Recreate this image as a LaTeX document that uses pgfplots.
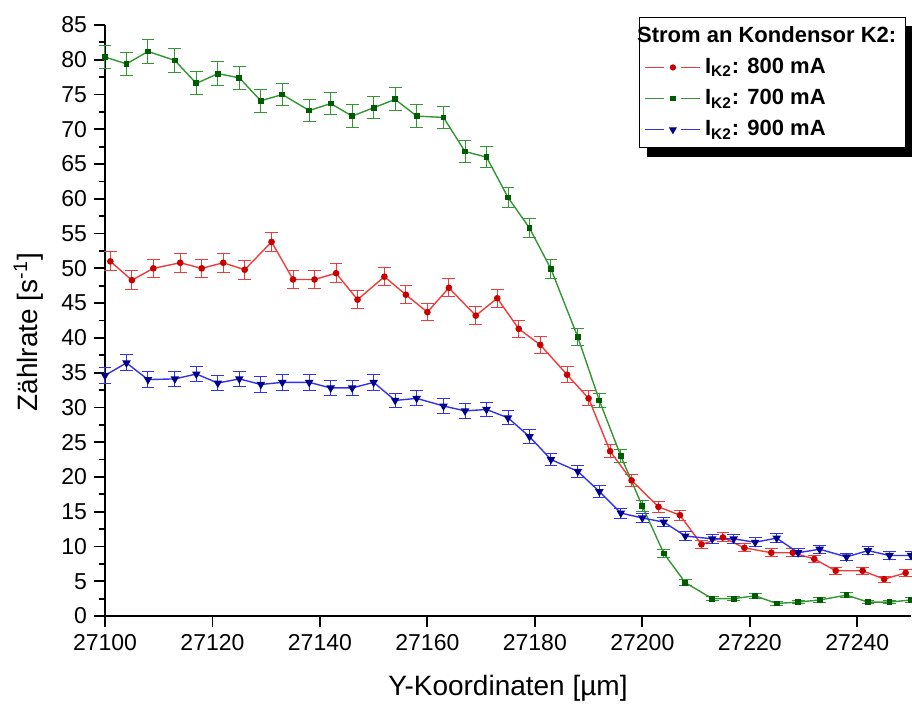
\documentclass[border=0pt]{standalone}
\usepackage{pgfplots}
\pgfplotsset{compat=1.18}
\usepackage{pgfplotstable}
\usepackage{fontspec}
\setmainfont{Liberation Sans}
\pgfdeclarelayer{background}
\pgfsetlayers{background,main}

\definecolor{redline}{RGB}{238,60,60}
\definecolor{redmark}{RGB}{200,0,0}
\definecolor{greenline}{RGB}{50,150,50}
\definecolor{greenmark}{RGB}{0,90,0}
\definecolor{blueline}{RGB}{50,50,235}
\definecolor{bluemark}{RGB}{0,0,140}

\pgfplotstableread{
x y e
27101 51.0 1.36
27105 48.3 1.32
27109 50.0 1.34
27114 50.8 1.35
27118 50.0 1.34
27122 50.8 1.35
27126 49.8 1.34
27131 53.8 1.39
27135 48.4 1.32
27139 48.4 1.32
27143 49.3 1.33
27147 45.5 1.28
27152 48.8 1.33
27156 46.2 1.29
27160 43.7 1.26
27164 47.2 1.31
27169 43.2 1.25
27173 45.7 1.28
27177 41.3 1.22
27181 39.0 1.19
27186 34.7 1.12
27190 31.3 1.06
27194 23.7 0.92
27198 19.5 0.84
27203 15.7 0.75
27207 14.5 0.72
27211 10.3 0.61
27215 11.3 0.64
27219 9.8 0.59
27224 9.1 0.57
27228 9.1 0.57
27232 8.2 0.54
27236 6.5 0.48
27241 6.5 0.48
27245 5.3 0.44
27249 6.2 0.47
}\redtable

\pgfplotstableread{
x y e
27100 80.4 1.70
27104 79.4 1.69
27108 81.2 1.71
27113 79.9 1.70
27117 76.6 1.66
27121 78.0 1.68
27125 77.4 1.67
27129 74.1 1.64
27133 75.0 1.65
27138 72.7 1.62
27142 73.7 1.63
27146 71.9 1.61
27150 73.1 1.62
27154 74.3 1.64
27158 71.9 1.61
27163 71.7 1.61
27167 66.8 1.55
27171 66.0 1.54
27175 60.2 1.47
27179 55.8 1.42
27183 49.9 1.34
27188 40.1 1.20
27192 31.0 1.06
27196 23.0 0.91
27200 15.8 0.76
27204 9.0 0.57
27208 4.8 0.42
27213 2.5 0.30
27217 2.5 0.30
27221 2.9 0.32
27225 1.8 0.25
27229 2.0 0.27
27233 2.3 0.29
27238 3.0 0.33
27242 2.0 0.27
27246 2.0 0.27
27250 2.3 0.29
}\greentable

\pgfplotstableread{
x y e
27100 34.6 1.12
27104 36.4 1.15
27108 34.0 1.11
27113 34.1 1.11
27117 34.8 1.12
27121 33.5 1.10
27125 34.1 1.11
27129 33.3 1.10
27133 33.6 1.10
27138 33.6 1.10
27142 32.8 1.09
27146 32.8 1.09
27150 33.6 1.10
27154 31.0 1.06
27158 31.3 1.06
27163 30.2 1.04
27167 29.5 1.03
27171 29.7 1.04
27175 28.5 1.01
27179 25.8 0.97
27183 22.5 0.90
27188 20.8 0.87
27192 17.9 0.80
27196 14.8 0.73
27200 14.1 0.71
27204 13.5 0.70
27208 11.5 0.64
27213 11.1 0.63
27217 11.1 0.63
27221 10.6 0.62
27225 11.2 0.64
27229 9.1 0.57
27233 9.6 0.59
27238 8.5 0.55
27242 9.4 0.58
27246 8.7 0.56
27250 8.7 0.56
}\bluetable

\begin{document}
\begin{tikzpicture}
\useasboundingbox (-52.5pt,-44pt) rectangle (403.5pt,308pt);
\begin{axis}[
  scale only axis,
  width=403pt, height=295.5pt,
  xmin=27100, xmax=27250, ymin=0, ymax=85,
  clip=false,
  axis x line*=bottom, axis y line*=left,
  axis line style={line width=1pt, black},
  xtick={27100,27120,...,27240},
  ytick={0,5,...,85},
  minor ytick={2.5,7.5,...,82.5},
  scaled x ticks=false, scaled y ticks=false,
  tick align=outside,
  major tick length=5.5pt, minor tick length=3pt,
  every tick/.style={black, line width=0.9pt},
  /pgf/number format/assume math mode=true,
  xticklabel style={/pgf/number format/1000 sep={}, font=\fontsize{11.5}{13}\selectfont},
  yticklabel style={font=\fontsize{11.5}{13}\selectfont},
  xlabel={Y-Koordinaten [µm]},
  ylabel={Zählrate [s\textsuperscript{-1}]},
  xlabel style={font=\fontsize{14}{16}\selectfont, at={(axis description cs:0.5,-0.122)}, anchor=center},
  ylabel style={font=\fontsize{14}{16}\selectfont, at={(axis description cs:-0.095,0.48)}, anchor=center},
  legend cell align=left,
  legend style={name=leg, at={(axis description cs:0.9935,1.0135)}, anchor=north east,
    draw=black, line width=0.5pt, fill=white,
    font=\fontsize{11}{13}\selectfont\bfseries,
    row sep=2.4pt, inner sep=2.5pt,
    /tikz/every even column/.append style={column sep=3pt}},
]
\addlegendimage{empty legend}
\addlegendentry{\hspace*{-34pt}Strom an Kondensor K2:}
\addlegendimage{legend image code/.code={
    \draw[redline,line width=0.7pt] (0pt,0pt) -- (9.5pt,0pt) (18pt,0pt) -- (27.5pt,0pt);
    \draw[redmark,fill=redmark] plot[mark=*,mark size=1.3pt,only marks] coordinates {(13.75pt,0pt)};}}
\addlegendentry{I\textsubscript{K2}: 800 mA}
\addlegendimage{legend image code/.code={
    \draw[greenline,line width=0.7pt] (0pt,0pt) -- (9.5pt,0pt) (18pt,0pt) -- (27.5pt,0pt);
    \draw[greenmark,fill=greenmark] plot[mark=square*,mark size=1.1pt,only marks] coordinates {(13.75pt,0pt)};}}
\addlegendentry{I\textsubscript{K2}: 700 mA}
\addlegendimage{legend image code/.code={
    \draw[blueline,line width=0.7pt] (0pt,0pt) -- (9.5pt,0pt) (18pt,0pt) -- (27.5pt,0pt);
    \draw[bluemark,fill=bluemark] plot[mark=triangle*,mark size=1.8pt,mark options={rotate=180},only marks] coordinates {(13.75pt,0pt)};}}
\addlegendentry{I\textsubscript{K2}: 900 mA}

\addplot[forget plot, color=redline, line width=0.7pt, mark=*, mark size=1.3pt,
  mark options={fill=redmark, draw=redmark},
  error bars/y dir=both, error bars/y explicit,
  error bars/error bar style={line width=0.5pt},
  error bars/error mark options={rotate=90, line width=0.5pt, mark size=3.2pt}]
  table[x=x, y=y, y error=e] {\redtable};

\addplot[forget plot, color=greenline, line width=0.7pt, mark=square*, mark size=1.1pt,
  mark options={fill=greenmark, draw=greenmark},
  error bars/y dir=both, error bars/y explicit,
  error bars/error bar style={line width=0.5pt},
  error bars/error mark options={rotate=90, line width=0.5pt, mark size=3.2pt}]
  table[x=x, y=y, y error=e] {\greentable};

\addplot[forget plot, color=blueline, line width=0.7pt, mark=triangle*, mark size=1.8pt,
  mark options={fill=bluemark, draw=bluemark, rotate=180},
  error bars/y dir=both, error bars/y explicit,
  error bars/error bar style={line width=0.5pt},
  error bars/error mark options={rotate=90, line width=0.5pt, mark size=3.2pt}]
  table[x=x, y=y, y error=e] {\bluetable};
\end{axis}
\begin{pgfonlayer}{background}
\fill[black] ([shift={(4pt,-4.5pt)}]leg.south west) rectangle ([shift={(4pt,-4.5pt)}]leg.north east);
\end{pgfonlayer}
\end{tikzpicture}
\end{document}
